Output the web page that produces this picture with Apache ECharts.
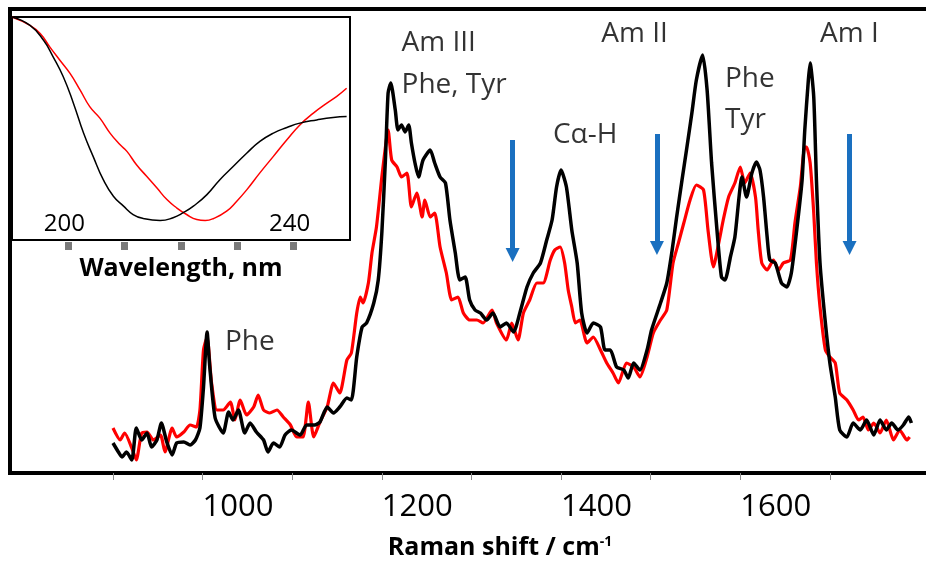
<!DOCTYPE html>
<html>
<head>
<meta charset="utf-8">
<script src="https://cdn.jsdelivr.net/npm/echarts@6.0.0/dist/echarts.min.js"></script>
<style>
  html, body { margin: 0; padding: 0; background: #fff; }
  #chart { width: 926px; height: 569px; }
</style>
</head>
<body>
<div id="chart"></div>
<script>
// Raman spectra (wavenumber / cm-1, intensity in arbitrary units)
const blackShift = [900, 906, 910, 915, 921, 926, 932, 938, 943, 949, 954, 960, 966, 971, 979, 986, 992, 997, 1001, 1005, 1008, 1014, 1023, 1029, 1034, 1040, 1047, 1053, 1060, 1068, 1073, 1079, 1086, 1092, 1099, 1109, 1116, 1125, 1131, 1139, 1146, 1153, 1161, 1166, 1172, 1178, 1183, 1191, 1196, 1200, 1204, 1207, 1210, 1215, 1218, 1222, 1226, 1230, 1233, 1237, 1241, 1246, 1254, 1259, 1265, 1271, 1276, 1282, 1287, 1293, 1298, 1304, 1310, 1317, 1324, 1332, 1339, 1347, 1354, 1362, 1369, 1377, 1384, 1390, 1395, 1400, 1406, 1412, 1418, 1423, 1429, 1436, 1444, 1449, 1455, 1462, 1470, 1475, 1481, 1488, 1496, 1501, 1511, 1518, 1524, 1529, 1535, 1540, 1546, 1551, 1558, 1563, 1568, 1574, 1579, 1583, 1589, 1594, 1602, 1607, 1613, 1618, 1622, 1626, 1630, 1633, 1639, 1646, 1652, 1657, 1663, 1669, 1672, 1676, 1678, 1682, 1685, 1689, 1695, 1700, 1706, 1711, 1719, 1726, 1734, 1741, 1749, 1756, 1763, 1769, 1776, 1782, 1788, 1791];
const blackIntensity = [30, 21, 16, 21, 13, 45, 33, 40, 26, 33, 50, 31, 18, 30, 31, 28, 33, 45, 86, 141, 106, 55, 40, 61, 53, 63, 40, 50, 41, 33, 21, 30, 26, 38, 43, 38, 48, 48, 51, 66, 60, 66, 75, 73, 116, 146, 150, 170, 193, 240, 313, 380, 390, 363, 343, 348, 341, 348, 330, 310, 296, 313, 323, 310, 296, 290, 253, 220, 193, 196, 173, 163, 160, 153, 160, 146, 150, 141, 160, 186, 200, 210, 233, 253, 286, 303, 286, 243, 210, 160, 140, 150, 146, 123, 123, 106, 103, 95, 110, 103, 123, 143, 170, 190, 223, 256, 293, 323, 360, 393, 418, 383, 310, 243, 196, 193, 216, 236, 296, 276, 300, 311, 303, 276, 236, 213, 210, 190, 186, 200, 243, 293, 343, 393, 410, 376, 293, 210, 150, 110, 76, 43, 36, 50, 43, 53, 38, 53, 43, 50, 43, 48, 56, 50];

const redShift = [900, 908, 913, 921, 926, 932, 938, 945, 953, 958, 966, 971, 979, 986, 993, 997, 1001, 1005, 1010, 1016, 1023, 1031, 1036, 1042, 1049, 1057, 1062, 1068, 1075, 1083, 1090, 1098, 1105, 1112, 1118, 1124, 1131, 1139, 1146, 1153, 1161, 1166, 1172, 1176, 1179, 1185, 1189, 1194, 1200, 1205, 1207, 1211, 1217, 1222, 1228, 1233, 1239, 1245, 1248, 1254, 1259, 1265, 1272, 1278, 1285, 1291, 1298, 1306, 1313, 1323, 1328, 1339, 1345, 1352, 1358, 1365, 1373, 1380, 1388, 1393, 1399, 1404, 1408, 1412, 1416, 1421, 1429, 1436, 1444, 1451, 1458, 1464, 1473, 1481, 1488, 1496, 1503, 1511, 1518, 1525, 1531, 1537, 1544, 1551, 1559, 1564, 1570, 1576, 1581, 1587, 1594, 1600, 1605, 1611, 1617, 1620, 1624, 1630, 1637, 1643, 1648, 1656, 1661, 1667, 1672, 1674, 1678, 1682, 1685, 1689, 1695, 1700, 1706, 1711, 1719, 1726, 1732, 1737, 1743, 1749, 1756, 1763, 1771, 1778, 1786, 1789];
const redIntensity = [45, 33, 40, 25, 13, 40, 41, 33, 38, 21, 45, 36, 41, 48, 46, 63, 123, 136, 90, 63, 63, 71, 53, 73, 58, 66, 78, 63, 60, 63, 56, 48, 36, 36, 71, 36, 51, 66, 90, 80, 113, 120, 160, 176, 170, 190, 220, 246, 296, 333, 343, 313, 306, 296, 300, 266, 280, 256, 273, 256, 260, 226, 200, 173, 176, 160, 153, 153, 150, 163, 150, 133, 150, 133, 160, 173, 190, 190, 213, 223, 226, 210, 183, 166, 150, 153, 130, 136, 123, 110, 100, 90, 110, 106, 96, 116, 140, 153, 163, 210, 230, 250, 273, 288, 283, 243, 206, 230, 253, 276, 290, 306, 290, 300, 276, 243, 210, 203, 213, 203, 210, 213, 250, 286, 326, 326, 310, 260, 210, 166, 123, 116, 110, 80, 73, 63, 53, 56, 43, 50, 40, 53, 33, 43, 33, 36];

// inset: CD spectra (wavelength / nm, ellipticity in arbitrary units)
const blackCdWavelength = [190, 193.2, 195.6, 197.3, 199.1, 200.9, 202.7, 204.4, 206.2, 208.0, 209.8, 211.5, 213.3, 216.3, 218.6, 220.4, 222.2, 224.6, 226.9, 229.3, 231.7, 234.0, 236.4, 238.8, 241.1, 244.1, 247.0, 249.4];
const blackCd = [0, -4.2, -11.7, -20, -30, -43.3, -58.3, -70, -81.7, -90, -95, -99.2, -101.2, -102.2, -100.8, -98.3, -95, -89.2, -81.7, -75, -68.3, -62.5, -58.3, -55.5, -53.3, -51.7, -50.5, -50];
const redCdWavelength = [190, 193.2, 195.0, 196.7, 198.5, 200.3, 202.1, 203.8, 205.6, 207.4, 209.2, 210.4, 212.1, 213.9, 215.7, 217.5, 219.2, 221.0, 222.8, 224.3, 225.7, 228.1, 229.9, 231.7, 234.0, 236.4, 238.8, 241.1, 243.5, 245.9, 247.6, 249.4];
const redCd = [0, -4.2, -8.3, -15, -21.7, -28.3, -36.7, -45, -50.8, -58.3, -64.2, -67.5, -74.2, -80, -85.8, -91.7, -95.8, -99.2, -101.7, -102.2, -101.3, -97.5, -92.5, -86.7, -78.3, -70, -61.7, -54.2, -48.3, -43.3, -40, -35.8];

// axis ticks / labels
const mainTicks = [900, 1000, 1100, 1200, 1300, 1400, 1500, 1600, 1700];
const mainTickLabels = [1000, 1200, 1400, 1600];
const insetTicks = [200, 210, 220, 230, 240];
const insetTickLabels = [200, 240];

// band annotations
const bandNames = ["Am III", "Phe, Tyr", "C\u03b1-H", "Am II", "Phe", "Tyr", "Am I", "Phe"];
const bandShift = [1222, 1222, 1391, 1445, 1583, 1583, 1689, 1025];
const bandLevel = [430, 388, 338, 439, 394, 353, 439, 131];

// blue arrows (top, head centre)
const arrowShift = [1346, 1507, 1722];
const arrowTop = [333, 339, 339];
const arrowEnd = [218, 225, 225];

const FONT = "Open Sans";

function pairs(xs, ys) {
  return xs.map((x, i) => [x, ys[i]]);
}

const chart = echarts.init(document.getElementById("chart"), null, { renderer: "canvas" });

chart.setOption({
  animation: false,
  backgroundColor: "#fff",
  textStyle: { fontFamily: FONT },
  grid: [
    { left: 113, top: 8, width: 802, height: 465 },
    { left: 12, top: 17, width: 338, height: 223, show: true, borderColor: "#000", borderWidth: 2, backgroundColor: "transparent", z: 5 }
  ],
  xAxis: [
    {
      type: "value",
      gridIndex: 0,
      position: "bottom",
      min: 900,
      max: 1795,
      axisLine: { show: false, onZero: false },
      splitLine: { show: false },
      axisTick: { show: true, customValues: mainTicks, length: 7, lineStyle: { color: "#8c8c8c", width: 1 } },
      axisLabel: {
        customValues: mainTickLabels,
        formatter: (v) => String(v),
        align: "left",
        margin: 19,
        fontSize: 31,
        color: "#000",
        fontFamily: FONT
      },
      name: "{t|Raman shift / cm}{s|-1}",
      nameLocation: "middle",
      nameGap: 62,
      nameTextStyle: {
        padding: [0, 28, 0, 0],
        rich: {
          t: { fontSize: 25, fontWeight: "bold", color: "#000", fontFamily: FONT },
          s: { fontSize: 14, fontWeight: "bold", color: "#000", fontFamily: FONT, verticalAlign: "top" }
        }
      }
    },
    {
      type: "value",
      gridIndex: 1,
      position: "bottom",
      min: 190,
      max: 250,
      offset: 2,
      axisLine: { show: false, onZero: false },
      splitLine: { show: false },
      axisTick: { show: true, customValues: insetTicks, length: 8, lineStyle: { color: "#7a7a7a", width: 7 } },
      axisLabel: {
        inside: true,
        customValues: insetTickLabels,
        formatter: (v) => String(v),
        margin: 6,
        padding: [0, 8, 0, 0],
        fontSize: 24,
        color: "#000",
        fontFamily: FONT
      },
      name: "Wavelength, nm",
      nameLocation: "middle",
      nameGap: 14,
      nameTextStyle: { fontSize: 25, fontWeight: "bold", color: "#000", fontFamily: FONT }
    }
  ],
  yAxis: [
    { type: "value", gridIndex: 0, min: 0, max: 465, show: false },
    { type: "value", gridIndex: 1, min: -112, max: 0, show: false }
  ],
  graphic: [
    {
      type: "rect",
      silent: true,
      shape: { x: 10, y: 9, width: 940, height: 464 },
      style: { fill: "transparent", stroke: "#000", lineWidth: 4 }
    }
  ],
  series: [
    {
      name: "red",
      type: "line",
      xAxisIndex: 0,
      yAxisIndex: 0,
      data: pairs(redShift, redIntensity),
      showSymbol: false,
      smooth: 0.2,
      lineStyle: { color: "#ff0000", width: 3.2 },
      z: 2
    },
    {
      name: "black",
      type: "line",
      xAxisIndex: 0,
      yAxisIndex: 0,
      data: pairs(blackShift, blackIntensity),
      showSymbol: false,
      smooth: 0.2,
      lineStyle: { color: "#000", width: 3.5 },
      z: 3,
      markLine: {
        silent: true,
        symbol: ["none", "triangle"],
        symbolSize: [14, 14],
        label: { show: false },
        lineStyle: { color: "#1a70c0", width: 5, type: "solid" },
        data: arrowShift.map((x, i) => [{ coord: [x, arrowTop[i]] }, { coord: [x, arrowEnd[i]] }])
      }
    },
    {
      name: "bands",
      type: "scatter",
      xAxisIndex: 0,
      yAxisIndex: 0,
      symbolSize: 0,
      silent: true,
      data: bandNames.map((n, i) => ({ name: n, value: [bandShift[i], bandLevel[i]] })),
      label: {
        show: true,
        position: [0, 0],
        align: "left",
        verticalAlign: "middle",
        formatter: "{b}",
        fontSize: 28,
        color: "#000",
        fontFamily: FONT
      },
      z: 4
    },
    {
      name: "cd red",
      type: "line",
      xAxisIndex: 1,
      yAxisIndex: 1,
      data: pairs(redCdWavelength, redCd),
      showSymbol: false,
      smooth: true,
      lineStyle: { color: "#ff0000", width: 1.5 },
      z: 6
    },
    {
      name: "cd black",
      type: "line",
      xAxisIndex: 1,
      yAxisIndex: 1,
      data: pairs(blackCdWavelength, blackCd),
      showSymbol: false,
      smooth: true,
      lineStyle: { color: "#000", width: 1.5 },
      z: 6
    }
  ]
});
</script>
</body>
</html>
